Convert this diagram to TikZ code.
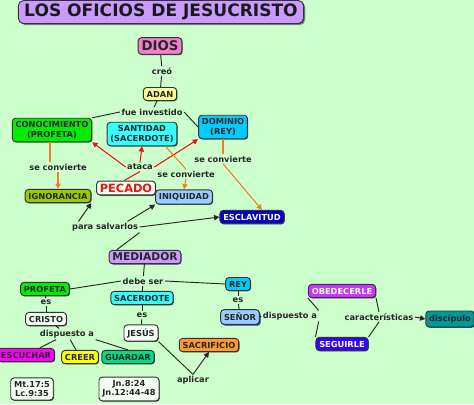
\documentclass[tikz,border=0pt]{standalone}
\usepackage{fontspec}
\setmainfont{DejaVu Sans}
\usetikzlibrary{arrows.meta,shadows}
\definecolor{bg}{HTML}{CCFFCC}
\definecolor{cpink}{HTML}{F080C8}
\definecolor{cyell}{HTML}{FFFF99}
\definecolor{cgreen}{HTML}{00EE00}
\definecolor{ccyan}{HTML}{33FFFF}
\definecolor{cblue}{HTML}{00CCFF}
\definecolor{colive}{HTML}{99CC00}
\definecolor{clblue}{HTML}{99CCFF}
\definecolor{cdblue}{HTML}{0000CC}
\definecolor{clav}{HTML}{CC99FF}
\definecolor{cpurp}{HTML}{CC33FF}
\definecolor{cviol}{HTML}{3300FF}
\definecolor{cteal}{HTML}{009999}
\definecolor{cmag}{HTML}{FF00FF}
\definecolor{cyel}{HTML}{FFFF00}
\definecolor{csea}{HTML}{00DD88}
\definecolor{corange}{HTML}{FF9933}
\definecolor{cwhite}{HTML}{F4FFF4}
\definecolor{arrred}{HTML}{EE1111}
\definecolor{arrorange}{HTML}{F08020}
\tikzset{
  box/.style={draw=black!80, line width=0.7pt, rounded corners=2.5pt, inner xsep=2.5pt, inner ysep=2.6pt,
    font=\bfseries\fontsize{6.2}{7}\selectfont, align=center, text=black!85,
    drop shadow={shadow xshift=0.6pt, shadow yshift=-0.6pt, fill=black!70, opacity=1}},
  lab/.style={font=\bfseries\fontsize{6.2}{7}\selectfont, text=black!85, inner sep=1pt, fill=bg},
  link/.style={draw=black!85, line width=0.7pt},
  redarr/.style={draw=arrred, line width=0.8pt, -{Triangle[length=4pt,width=4pt]}},
  redl/.style={draw=arrred, line width=0.8pt},
  orl/.style={draw=arrorange, line width=0.8pt},
  orarr/.style={draw=arrorange, line width=0.8pt, -{Triangle[length=4pt,width=4pt]}},
  blkarr/.style={draw=black!85, line width=0.7pt, -{Triangle[length=4pt,width=4pt]}},
}
\begin{document}
\begin{tikzpicture}[x=0.75pt,y=-0.75pt]
\fill[bg] (0,0) rectangle (474,404);
\useasboundingbox (0,0) rectangle (474,404);
% title
\node[box, fill=clav, minimum width=214pt, minimum height=17pt, rounded corners=4pt,
  font=\bfseries\fontsize{12.8}{14}\selectfont, text=black!90,
  drop shadow={shadow xshift=1.2pt, shadow yshift=-1.2pt, fill=black!75}] (title) at (161,12) {LOS OFICIOS DE JESUCRISTO};
% nodes
\node[box, fill=cpink, font=\bfseries\fontsize{10}{11}\selectfont, inner sep=2.5pt] (dios) at (160,46) {DIOS};
\node[lab] (creo) at (162,71) {creó};
\node[box, fill=cyell] (adan) at (160,94) {ADAN};
\node[lab] (fue) at (152,112) {fue investido};
\node[box, fill=cgreen] (cono) at (52,130) {CONOCIMIENTO\\(PROFETA)};
\node[box, fill=ccyan] (sant) at (142,134) {SANTIDAD\\(SACERDOTE)};
\node[box, fill=cblue, minimum width=34pt] (domi) at (223,127) {DOMINIO\\(REY)};
\node[lab] (sc1) at (58,167) {se convierte};
\node[lab] (ataca) at (140,167) {ataca};
\node[lab] (sc2) at (186,174) {se convierte};
\node[lab] (sc3) at (223,159) {se convierte};
\node[box, fill=cwhite, text=arrred, font=\bfseries\fontsize{8.5}{10}\selectfont, minimum width=38pt, inner ysep=2pt] (pecado) at (126,188) {PECADO};
\node[box, fill=colive] (igno) at (58,196) {IGNORANCIA};
\node[box, fill=clblue] (iniq) at (184,197) {INIQUIDAD};
\node[box, fill=cdblue, text=white] (escl) at (252,217) {ESCLAVITUD};
\node[lab] (para) at (105,227) {para salvarlos};
\node[box, fill=clav, font=\bfseries\fontsize{8}{9}\selectfont, inner ysep=2pt] (medi) at (145,257) {MEDIADOR};
\node[lab] (debe) at (143,281) {debe ser};
\node[box, fill=cgreen] (prof) at (45,289) {PROFETA};
\node[box, fill=ccyan] (sace) at (142,298) {SACERDOTE};
\node[box, fill=cblue] (rey) at (238,284) {REY};
\node[lab] (es1) at (46,302) {es};
\node[lab] (es2) at (142,315) {es};
\node[lab] (es3) at (238,300) {es};
\node[box, fill=cwhite] (cris) at (46,319) {CRISTO};
\node[box, fill=cwhite] (jesus) at (141,333) {JESÚS};
\node[box, fill=clblue, drop shadow={shadow xshift=1.2pt, shadow yshift=-1.2pt, fill=cdblue}] (senor) at (240,317) {SEÑOR};
\node[lab] (disp1) at (67,334) {dispuesto a};
\node[lab] (disp2) at (290,316) {dispuesto a};
\node[box, fill=cpurp, text=white] (obed) at (342,291) {OBEDECERLE};
\node[box, fill=cviol, text=white] (segu) at (342,344) {SEGUIRLE};
\node[lab] (cara) at (379,317) {características};
\node[box, fill=cteal, text=black!85, minimum height=12pt] (disc) at (450,319) {discípulo};
\node[box, fill=cmag] (escu) at (26,355) {ESCUCHAR};
\node[box, fill=cyel] (cree) at (80,357) {CREER};
\node[box, fill=csea] (guar) at (128,357) {GUARDAR};
\node[box, fill=corange] (sacr) at (209,345) {SACRIFICIO};
\node[lab] (apli) at (193,380) {aplicar};
\node[box, fill=cwhite, inner sep=2.5pt] (mt) at (32,389) {Mt.17:5\\Lc.9:35};
\node[box, fill=cwhite, inner sep=2.5pt] (jn) at (129,389) {Jn.8:24\\Jn.12:44-48};
% links
\draw[link] (dios) -- (creo);
\draw[link] (creo) -- (adan);
\draw[link] (adan) -- (fue);
\draw[link] (fue.west) -- (cono.north east);
\draw[link] (fue.east) -- (domi.west);
\draw[orl] (cono.south) ++(-2,0) coordinate (c1) -- (sc1.north -| c1);
\draw[orarr] (sc1.south) ++(0,0) -- (igno.north);
\draw[redl] (pecado.north) ++(-2,0) -- (ataca.south);
\draw[redarr] (ataca.west) -- (cono.south east);
\draw[redarr] (ataca.north) -- (sant.south);
\draw[redarr] (ataca.east) -- (domi.south west);
\draw[orl] (sant.south east) ++(-12,0) -- (sc2.north);
\draw[orarr] (sc2.south) -- (iniq.north);
\draw[orl] (domi.south) -- (sc3.north);
\draw[orarr] (sc3.south) -- (escl.north -| 262,0);
\draw[link] (medi.north west) ++(8,0) -- (para.south east);
\draw[blkarr] (para.north west) ++(8,0) -- (igno.south east);
\draw[blkarr] (para.north east) ++(-12,0) -- (iniq.south west);
\draw[blkarr] (para.east) -- (escl.west);
\draw[link] (medi) -- (debe);
\draw[link] (debe.west) -- (prof.east);
\draw[link] (debe.east) -- (rey.west);
\draw[link] (debe) -- (sace);
\draw[link] (prof) -- (es1);
\draw[link] (es1) -- (cris);
\draw[link] (sace) -- (es2);
\draw[link] (es2) -- (jesus);
\draw[link] (rey) -- (es3);
\draw[link] (es3) -- (senor);
\draw[link] (cris) -- (disp1);
\draw[link] (disp1) -- (escu);
\draw[link] (disp1) -- (cree);
\draw[link] (disp1.south east) -- (guar.north);
\draw[link] (jesus.south east) -- (apli.north);
\draw[blkarr] (apli.north) -- (sacr.south);
\draw[link] (senor) -- (disp2);
\draw[link] (disp2.north east) -- (obed.south west);
\draw[link] (disp2.south east) -- (segu.north west);
\draw[link] (obed.south east) -- (cara.north);
\draw[link] (segu.north east) -- (cara.south);
\draw[blkarr] (cara.east) -- (disc.west);
\end{tikzpicture}
\end{document}
